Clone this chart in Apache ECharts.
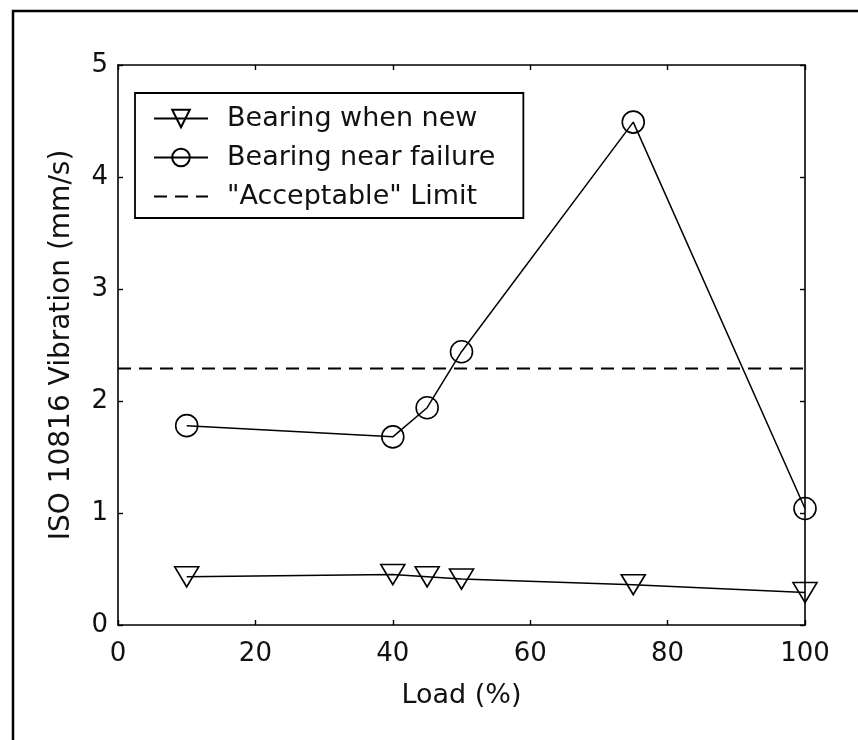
<!DOCTYPE html>
<html>
<head>
<meta charset="utf-8">
<script src="https://cdn.jsdelivr.net/npm/echarts@6/dist/echarts.min.js"></script>
<style>
html,body{margin:0;padding:0;background:#fff;}
#c{width:858px;height:740px;}
</style>
</head>
<body>
<div id="c"></div>
<script>
const loads = [10, 40, 45, 50, 75, 100];
const bearingNew = [0.43, 0.45, 0.43, 0.41, 0.36, 0.29];
const bearingFailure = [1.78, 1.68, 1.94, 2.44, 4.49, 1.04];
const limitValue = 2.29;
const limitX = [0, 100];
const seriesNames = ['Bearing when new', 'Bearing near failure', '"Acceptable" Limit'];
const xAxisName = 'Load (%)';
const yAxisName = 'ISO 10816 Vibration (mm/s)';

const FONT = 'DejaVu Sans';
const chart = echarts.init(document.getElementById('c'), null, {renderer: 'canvas'});

function pairs(xs, ys) { return xs.map((x, i) => [x, ys[i]]); }

const axisCommon = {
  axisLine: {show: true, onZero: false, lineStyle: {color: '#000', width: 1.6}},
  axisTick: {show: true, inside: true, length: 5, lineStyle: {color: '#000', width: 1.4}},
  splitLine: {show: false}
};

const option = {
  animation: false,
  backgroundColor: '#fff',
  grid: {left: 118, right: 53, top: 65, bottom: 115, show: false},
  xAxis: [
    Object.assign({
      type: 'value', min: 0, max: 100, interval: 20, position: 'bottom',
      name: xAxisName, nameLocation: 'middle', nameGap: 57,
      nameTextStyle: {fontFamily: FONT, fontSize: 27, color: '#111'},
      axisLabel: {fontFamily: FONT, fontSize: 26, color: '#111', margin: 16}
    }, axisCommon),
    Object.assign({
      type: 'value', min: 0, max: 100, interval: 20, position: 'top',
      axisLabel: {show: false}
    }, axisCommon)
  ],
  yAxis: [
    Object.assign({
      type: 'value', min: 0, max: 5, interval: 1, position: 'left',
      name: yAxisName, nameLocation: 'middle', nameGap: 42,
      nameTextStyle: {fontFamily: FONT, fontSize: 28, color: '#111'},
      axisLabel: {fontFamily: FONT, fontSize: 26, color: '#111', margin: 10}
    }, axisCommon),
    Object.assign({
      type: 'value', min: 0, max: 5, interval: 1, position: 'right',
      axisLabel: {show: false}
    }, axisCommon)
  ],
  legend: {
    orient: 'vertical',
    left: 135, top: 93,
    data: [
      {name: seriesNames[0]},
      {name: seriesNames[1]},
      {name: seriesNames[2], itemStyle: {color: 'rgba(0,0,0,0)', borderWidth: 0, opacity: 0}}
    ],
    itemWidth: 54, itemHeight: 22, itemGap: 12,
    padding: [12, 28, 8, 18],
    backgroundColor: '#fff',
    borderColor: '#000', borderWidth: 1.8, borderRadius: 0,
    textStyle: {fontFamily: FONT, fontSize: 27, color: '#111', padding: [0, 0, 0, 14]}
  },
  graphic: [{
    type: 'polyline',
    shape: {points: [[13, 740], [13, 11], [858, 11]]},
    style: {stroke: '#000', lineWidth: 2.5, fill: null},
    silent: true
  }],
  series: [
    {
      name: seriesNames[0], type: 'line',
      data: pairs(loads, bearingNew),
      symbol: 'triangle', symbolRotate: 180, symbolSize: [24, 20],
      lineStyle: {color: '#000', width: 1.5},
      itemStyle: {color: 'rgba(0,0,0,0)', borderColor: '#000', borderWidth: 1.6}
    },
    {
      name: seriesNames[1], type: 'line',
      data: pairs(loads, bearingFailure),
      symbol: 'circle', symbolSize: 22,
      lineStyle: {color: '#000', width: 1.5},
      itemStyle: {color: 'rgba(0,0,0,0)', borderColor: '#000', borderWidth: 1.6}
    },
    {
      name: seriesNames[2], type: 'line',
      data: limitX.map(x => [x, limitValue]),
      symbol: 'none', showSymbol: false,
      lineStyle: {color: '#000', width: 1.8, type: [13, 8]},
      itemStyle: {color: '#000'}
    }
  ]
};
chart.setOption(option);
</script>
</body>
</html>
